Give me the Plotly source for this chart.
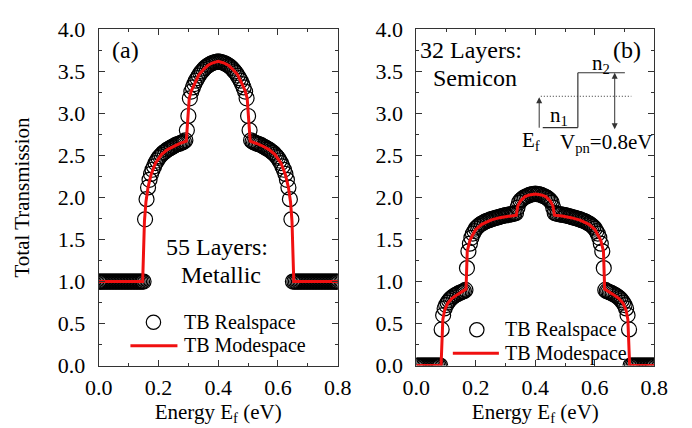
import plotly.graph_objects as go

# ---------------- data ----------------
# energy grid of the real-space (circle) samples, eV
energy_rs = [round(i * 0.005, 3) for i in range(161)]

# (a) 55 layers, metallic : TB Realspace
trans_a_rs = (
    [1.0] * 31 +
    [1.74, 1.98, 2.12, 2.21, 2.28, 2.33, 2.37, 2.41, 2.44, 2.47,
     2.49, 2.51, 2.53, 2.54, 2.555, 2.57, 2.58, 2.59, 2.60, 2.61,
     2.62, 2.63, 2.635, 2.64, 2.65, 2.655, 2.665, 2.68, 2.80, 2.97,
     3.18, 3.26, 3.31, 3.35, 3.39, 3.42, 3.45, 3.48, 3.50, 3.52,
     3.54, 3.555, 3.57, 3.58, 3.59, 3.60, 3.605, 3.61, 3.615, 3.62] +
    [3.615, 3.61, 3.605, 3.60, 3.59, 3.58, 3.57, 3.555, 3.54, 3.52,
     3.50, 3.48, 3.45, 3.42, 3.39, 3.35, 3.31, 3.26, 3.18, 2.97,
     2.80, 2.68, 2.665, 2.655, 2.65, 2.64, 2.635, 2.63, 2.62, 2.61,
     2.60, 2.59, 2.58, 2.57, 2.555, 2.54, 2.53, 2.51, 2.49, 2.47,
     2.44, 2.41, 2.37, 2.33, 2.28, 2.21, 2.12, 1.98, 1.74] +
    [1.0] * 31
)

# (a) TB Modespace
energy_a_ms = [0.0, 0.147, 0.153, 0.158, 0.165, 0.175, 0.19, 0.21, 0.23, 0.25,
               0.27, 0.293, 0.298, 0.303, 0.31, 0.32, 0.335, 0.35, 0.365, 0.38,
               0.40, 0.42, 0.435, 0.45, 0.465, 0.48, 0.49, 0.497, 0.502, 0.507,
               0.53, 0.55, 0.57, 0.59, 0.61, 0.625, 0.635, 0.642, 0.647, 0.653, 0.80]
trans_a_ms = [1.0, 1.0, 1.72, 1.95, 2.12, 2.27, 2.41, 2.51, 2.57, 2.61,
              2.64, 2.67, 2.90, 3.18, 3.27, 3.35, 3.46, 3.52, 3.57, 3.60,
              3.62, 3.60, 3.57, 3.52, 3.46, 3.35, 3.27, 3.18, 2.90, 2.67,
              2.64, 2.61, 2.57, 2.51, 2.41, 2.27, 2.12, 1.95, 1.72, 1.0, 1.0]

# (b) 32 layers, semiconducting : TB Realspace
trans_b_rs = (
    [0.0] * 17 +
    [0.43, 0.60, 0.68, 0.72, 0.75, 0.775, 0.795, 0.81, 0.825, 0.835,
     0.845, 0.855, 0.865, 0.87, 0.88, 0.885, 0.90, 1.16, 1.36, 1.45,
     1.52, 1.57, 1.60, 1.63, 1.65, 1.665, 1.68, 1.69, 1.70, 1.71,
     1.72, 1.725, 1.73, 1.74, 1.745, 1.75, 1.755, 1.76, 1.765, 1.77,
     1.775, 1.78, 1.785, 1.79, 1.79, 1.795, 1.80, 1.80, 1.805, 1.81,
     1.815, 1.88, 1.94, 1.965, 1.98, 1.995, 2.005, 2.015, 2.02, 2.03,
     2.035, 2.04, 2.04, 2.045] +
    [2.04, 2.04, 2.035, 2.03, 2.02, 2.015, 2.005, 1.995, 1.98, 1.965,
     1.94, 1.88, 1.815, 1.81, 1.805, 1.80, 1.80, 1.795, 1.79, 1.79,
     1.785, 1.78, 1.775, 1.77, 1.765, 1.76, 1.755, 1.75, 1.745, 1.74,
     1.73, 1.725, 1.72, 1.71, 1.70, 1.69, 1.68, 1.665, 1.65, 1.63,
     1.60, 1.57, 1.52, 1.45, 1.36, 1.16, 0.90, 0.885, 0.88, 0.87,
     0.865, 0.855, 0.845, 0.835, 0.825, 0.81, 0.795, 0.775, 0.75, 0.72,
     0.68, 0.60, 0.43] +
    [0.0] * 17
)

# (b) TB Modespace
energy_b_ms = [0.0, 0.083, 0.089, 0.095, 0.105, 0.12, 0.14, 0.167, 0.171, 0.18,
               0.19, 0.20, 0.22, 0.25, 0.28, 0.31, 0.336, 0.341, 0.35, 0.365,
               0.38, 0.40, 0.42, 0.435, 0.45, 0.459, 0.464, 0.49, 0.52, 0.55,
               0.58, 0.60, 0.61, 0.62, 0.629, 0.633, 0.66, 0.68, 0.695, 0.705,
               0.711, 0.717, 0.80]
trans_b_ms = [0.0, 0.0, 0.55, 0.66, 0.74, 0.80, 0.85, 0.91, 1.36, 1.49,
              1.56, 1.62, 1.68, 1.73, 1.76, 1.78, 1.79, 1.90, 1.96, 2.01,
              2.03, 2.04, 2.03, 2.01, 1.96, 1.90, 1.79, 1.78, 1.76, 1.73,
              1.68, 1.62, 1.56, 1.49, 1.36, 0.91, 0.85, 0.80, 0.74, 0.66,
              0.55, 0.0, 0.0]

x_ticks = [0.0, 0.2, 0.4, 0.6, 0.8]
y_ticks = [0.0, 0.5, 1.0, 1.5, 2.0, 2.5, 3.0, 3.5, 4.0]

# ---------------- figure ----------------
W, H = 692, 428
FONT = "Liberation Serif, Times New Roman, serif"
RED = "#f01010"
AX = "#333333"


def px(x):
    return x / W


def py(y):
    return 1 - y / H


fig = go.Figure()

circle_marker = dict(symbol="circle-open", size=15, color="black",
                     line=dict(width=1.2, color="black"))

fig.add_trace(go.Scatter(x=energy_rs, y=trans_a_rs, mode="markers",
                         marker=circle_marker, name="TB Realspace",
                         xaxis="x", yaxis="y", showlegend=False))
fig.add_trace(go.Scatter(x=energy_a_ms, y=trans_a_ms, mode="lines",
                         line=dict(color=RED, width=3), name="TB Modespace",
                         xaxis="x", yaxis="y", showlegend=False))
fig.add_trace(go.Scatter(x=energy_rs, y=trans_b_rs, mode="markers",
                         marker=circle_marker, name="TB Realspace",
                         xaxis="x2", yaxis="y2", showlegend=False))
fig.add_trace(go.Scatter(x=energy_b_ms, y=trans_b_ms, mode="lines",
                         line=dict(color=RED, width=3), name="TB Modespace",
                         xaxis="x2", yaxis="y2", showlegend=False))

ydom = [py(367), py(10)]
xdom_a = [px(80), px(329)]
xdom_b = [px(411), px(659)]

tickfont = dict(family=FONT, size=22, color="black")
titlefont = dict(family=FONT, size=21, color="black")


def xaxis(dom, anchor):
    return dict(domain=dom, anchor=anchor, range=[0, 0.8],
                tickvals=x_ticks, ticktext=[f"{v:.1f}" for v in x_ticks],
                ticks="inside", ticklen=6, tickwidth=1, tickcolor=AX,
                minor=dict(dtick=0.1, tick0=0, ticks="inside", ticklen=3,
                           tickcolor=AX, tickwidth=1),
                showline=True, linecolor=AX, linewidth=1, mirror="allticks",
                showgrid=False, zeroline=False, tickfont=tickfont,
                ticklabeloverflow="allow", ticklabelstandoff=2,
                title=dict(text="Energy E<sub>f</sub> (eV)", font=titlefont,
                           standoff=0),
                fixedrange=True)


def yaxis(anchor, show_title):
    d = dict(domain=ydom, anchor=anchor, range=[0, 4],
             tickvals=y_ticks, ticktext=[f"{v:.1f}" for v in y_ticks],
             ticks="inside", ticklen=6, tickwidth=1, tickcolor=AX,
             minor=dict(dtick=0.25, tick0=0, ticks="inside", ticklen=3,
                        tickcolor=AX, tickwidth=1),
             showline=True, linecolor=AX, linewidth=1, mirror="allticks",
             showgrid=False, zeroline=False, tickfont=tickfont,
             ticklabeloverflow="allow", ticklabelstandoff=8, fixedrange=True)
    if show_title:
        d["title"] = dict(text="Total Transmission", font=titlefont, standoff=22)
    return d


fig.update_layout(
    width=W, height=H,
    margin=dict(l=0, r=0, t=0, b=0),
    paper_bgcolor="white", plot_bgcolor="white",
    font=dict(family=FONT, color="black"),
    xaxis=xaxis(xdom_a, "y"),
    yaxis=yaxis("x", True),
    xaxis2=xaxis(xdom_b, "y2"),
    yaxis2=yaxis("x2", False),
    showlegend=False,
)

ann = []


def text(x, y, s, size=20, xanchor="center"):
    ann.append(dict(x=px(x), y=py(y), xref="paper", yref="paper", text=s,
                    showarrow=False, xanchor=xanchor, yanchor="middle",
                    font=dict(family=FONT, size=size, color="black")))


# panel labels and descriptions
text(108, 32, "(a)", 24)
text(203, 241, "55 Layers:", 24)
text(207, 271, "Metallic", 24)
text(468, 32, "32 Layers:", 24)
text(472, 62, "Semicon", 24)
text(630, 32, "(b)", 24)

# inset band diagram labels
text(603, 47, "n<sub>2</sub>", 21)
text(560, 102, "n<sub>1</sub>", 21)
text(530, 129, "E<sub>f</sub>", 21)
text(609, 131, "V<sub>pn</sub>=0.8eV", 21)

# legend texts
text(167, 321, "TB Realspace", 20, "left")
text(167, 346, "TB Modespace", 20, "left")
text(501, 329, "TB Realspace", 20, "left")
text(501, 354, "TB Modespace", 20, "left")

# arrows in inset
ann.append(dict(x=px(539), y=py(82), xref="paper", yref="paper", text="",
                showarrow=True, ax=0, ay=32, arrowhead=2, arrowsize=1.2,
                arrowwidth=1, arrowcolor=AX, standoff=0))
ann.append(dict(x=px(617.7), y=py(56), xref="paper", yref="paper", text="",
                showarrow=True, ax=0, ay=58, arrowhead=2, arrowsize=1.2,
                arrowwidth=1, arrowcolor=AX, arrowside="end+start",
                standoff=0, startstandoff=0, startarrowhead=2, startarrowsize=1.2))

fig.update_layout(annotations=ann)

shapes = []


def seg(x0, y0, x1, y1, color=AX, width=1.2, dash="solid"):
    shapes.append(dict(type="line", xref="paper", yref="paper",
                       x0=px(x0), y0=py(y0), x1=px(x1), y1=py(y1),
                       line=dict(color=color, width=width, dash=dash)))


seg(542.7, 114.3, 579.3, 114.3)
seg(579.3, 114.3, 579.3, 56)
seg(579.3, 56, 628.3, 56)
seg(540.7, 81, 635, 81, width=1, dash="1px,2px")

# legend glyphs
for cx, cy, lx0, lx1, ly in [(137, 321, 113, 162, 346), (474, 329, 449, 497, 354)]:
    shapes.append(dict(type="circle", xref="paper", yref="paper",
                       x0=px(cx - 7.5), x1=px(cx + 7.5),
                       y0=py(cy + 7.5), y1=py(cy - 7.5),
                       line=dict(color="black", width=1.2)))
    seg(lx0, ly, lx1, ly, color=RED, width=3)

fig.update_layout(shapes=shapes)

fig.write_html("out.html")
